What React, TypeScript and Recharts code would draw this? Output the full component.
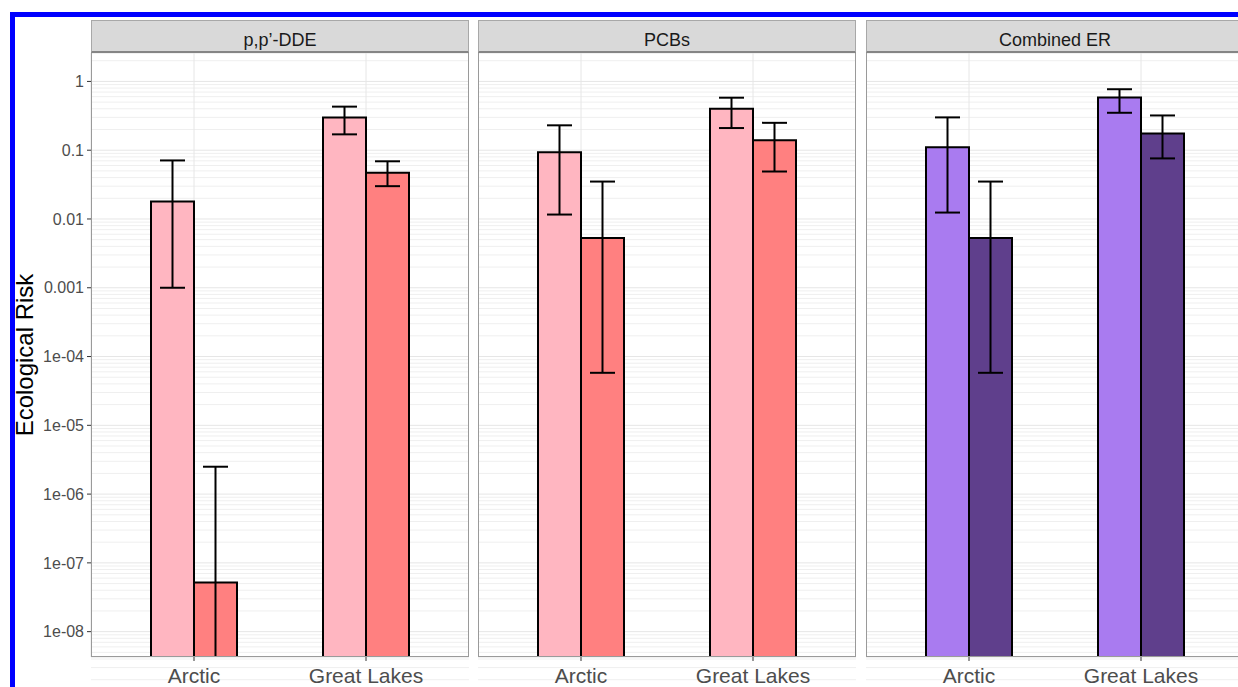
import { BarChart, Bar, XAxis, YAxis, CartesianGrid, ErrorBar } from 'recharts';

const regions = ['Arctic', 'Great Lakes'];
const facetTitles = ['p,p\u2019-DDE', 'PCBs', 'Combined ER'];

// p,p'-DDE
const ddeLight = [0.018, 0.3];
const ddeLightLow = [0.001, 0.17];
const ddeLightHigh = [0.071, 0.43];
const ddeDark = [5.2e-8, 0.047];
const ddeDarkLow = [1e-11, 0.03];
const ddeDarkHigh = [2.5e-6, 0.069];

// PCBs
const pcbLight = [0.093, 0.4];
const pcbLightLow = [0.0116, 0.21];
const pcbLightHigh = [0.23, 0.58];
const pcbDark = [0.0053, 0.139];
const pcbDarkLow = [5.8e-5, 0.049];
const pcbDarkHigh = [0.035, 0.25];

// Combined ER
const erLight = [0.11, 0.585];
const erLightLow = [0.0124, 0.35];
const erLightHigh = [0.3, 0.77];
const erDark = [0.0053, 0.175];
const erDarkLow = [5.8e-5, 0.076];
const erDarkHigh = [0.035, 0.32];

const yTicks = [1e-8, 1e-7, 1e-6, 1e-5, 1e-4, 0.001, 0.01, 0.1, 1];
const yTickLabels = ['1e-08', '1e-07', '1e-06', '1e-05', '1e-04', '0.001', '0.01', '0.1', '1'];

const pinks = ['#FFB6C1', '#FF8080'];
const purples = ['#A97BF0', '#5F3F8C'];

// minor log grid lines (2..9 x 10^n)
const minorGrid: number[] = [];
for (let e = -9; e <= 0; e++) {
  for (let k = 2; k <= 9; k++) minorGrid.push(k * Math.pow(10, e));
}

const FONT = '"Liberation Sans", Arial, sans-serif';
const Y_DOMAIN: [number, number] = [4.28e-9, 2.59];
const PANEL_W = 378;
const PLOT_H = 604;

function buildRows(
  light: number[], lightLow: number[], lightHigh: number[],
  dark: number[], darkLow: number[], darkHigh: number[],
) {
  return regions.map((region, i) => ({
    region,
    light: light[i],
    lightErr: [light[i] - lightLow[i], lightHigh[i] - light[i]],
    dark: dark[i],
    darkErr: [dark[i] - darkLow[i], darkHigh[i] - dark[i]],
  }));
}

const panels = [
  { title: facetTitles[0], colors: pinks, rows: buildRows(ddeLight, ddeLightLow, ddeLightHigh, ddeDark, ddeDarkLow, ddeDarkHigh) },
  { title: facetTitles[1], colors: pinks, rows: buildRows(pcbLight, pcbLightLow, pcbLightHigh, pcbDark, pcbDarkLow, pcbDarkHigh) },
  { title: facetTitles[2], colors: purples, rows: buildRows(erLight, erLightLow, erLightHigh, erDark, erDarkLow, erDarkHigh) },
];

const panelLefts = [91, 478, 866];

function Facet({ index }: { index: number }) {
  const p = panels[index];
  const left = panelLefts[index];
  const showAxis = index === 0;
  const axisW = showAxis ? 91 : 0;
  return (
    <>
      <div
        style={{
          position: 'absolute', left, top: 20, width: PANEL_W, height: 33,
          boxSizing: 'border-box', background: '#D9D9D9',
          border: '1px solid #A8A8A8', borderBottom: '2px solid #858585',
          display: 'flex', alignItems: 'center', justifyContent: 'center',
          paddingTop: 8, fontSize: 18, color: '#1A1A1A', lineHeight: '18px',
        }}
      >
        {p.title}
      </div>
      <div style={{ position: 'absolute', left: left - axisW, top: 53 }}>
        <BarChart
          width={PANEL_W + axisW}
          height={644}
          data={p.rows}
          margin={{ top: 0, right: 0, bottom: 0, left: 0 }}
          barCategoryGap="25%"
          barGap={0}
        >
          <CartesianGrid horizontalValues={minorGrid} vertical={false} stroke="#EFEFEF" strokeWidth={1} />
          <CartesianGrid stroke="#E6E6E6" strokeWidth={1} />
          <XAxis
            dataKey="region"
            padding={{ left: 17, right: 17 }}
            interval={0}
            height={40}
            axisLine={false}
            tickSize={4}
            tickMargin={7}
            tickLine={{ stroke: '#333333' }}
            tick={{ fill: '#4D4D4D', fontSize: 21, fontFamily: FONT }}
          />
          <YAxis
            scale="log"
            domain={Y_DOMAIN}
            allowDataOverflow
            ticks={yTicks}
            interval={0}
            hide={!showAxis}
            width={91}
            axisLine={false}
            tickSize={4}
            tickMargin={3}
            tickLine={{ stroke: '#333333' }}
            tick={{ fill: '#4D4D4D', fontSize: 16, fontFamily: FONT }}
            tickFormatter={(v: number) => yTickLabels[yTicks.indexOf(v)] ?? String(v)}
          />
          <Bar dataKey="light" fill={p.colors[0]} stroke="#000" strokeWidth={2} isAnimationActive={false}>
            <ErrorBar dataKey="lightErr" width={12.5} stroke="#000" strokeWidth={2} />
          </Bar>
          <Bar dataKey="dark" fill={p.colors[1]} stroke="#000" strokeWidth={2} isAnimationActive={false}>
            <ErrorBar dataKey="darkErr" width={12.5} stroke="#000" strokeWidth={2} />
          </Bar>
        </BarChart>
      </div>
      <div
        style={{
          position: 'absolute', left, top: 53, width: PANEL_W, height: PLOT_H,
          boxSizing: 'border-box', border: '1px solid #9A9A9A', borderTop: 'none',
          pointerEvents: 'none',
        }}
      />
    </>
  );
}

export default function App() {
  return (
    <div
      style={{
        position: 'absolute', left: 0, top: 0, width: 1238, height: 687,
        overflow: 'hidden', background: '#fff', fontFamily: FONT,
      }}
    >
      {/* error bars that run past the axis limits are cut at the panel edge */}
      <style>{'.recharts-errorBars, .recharts-errorBar { clip-path: url(#plotAreaClip); }'}</style>
      <svg width={0} height={0} style={{ position: 'absolute' }}>
        <defs>
          <clipPath id="plotAreaClip" clipPathUnits="userSpaceOnUse">
            <rect x={-10} y={-10} width={2000} height={PLOT_H + 10} />
          </clipPath>
        </defs>
      </svg>
      <div
        style={{
          position: 'absolute', left: 10, top: 12, width: 1400, height: 900,
          border: '5px solid #0000FF',
        }}
      />
      {panels.map((_, i) => (
        <Facet key={i} index={i} />
      ))}
      <div
        style={{
          position: 'absolute', left: 25, top: 355, whiteSpace: 'nowrap',
          transform: 'translate(-50%, -50%) rotate(-90deg)', fontSize: 24, color: '#000',
        }}
      >
        Ecological Risk
      </div>
    </div>
  );
}
